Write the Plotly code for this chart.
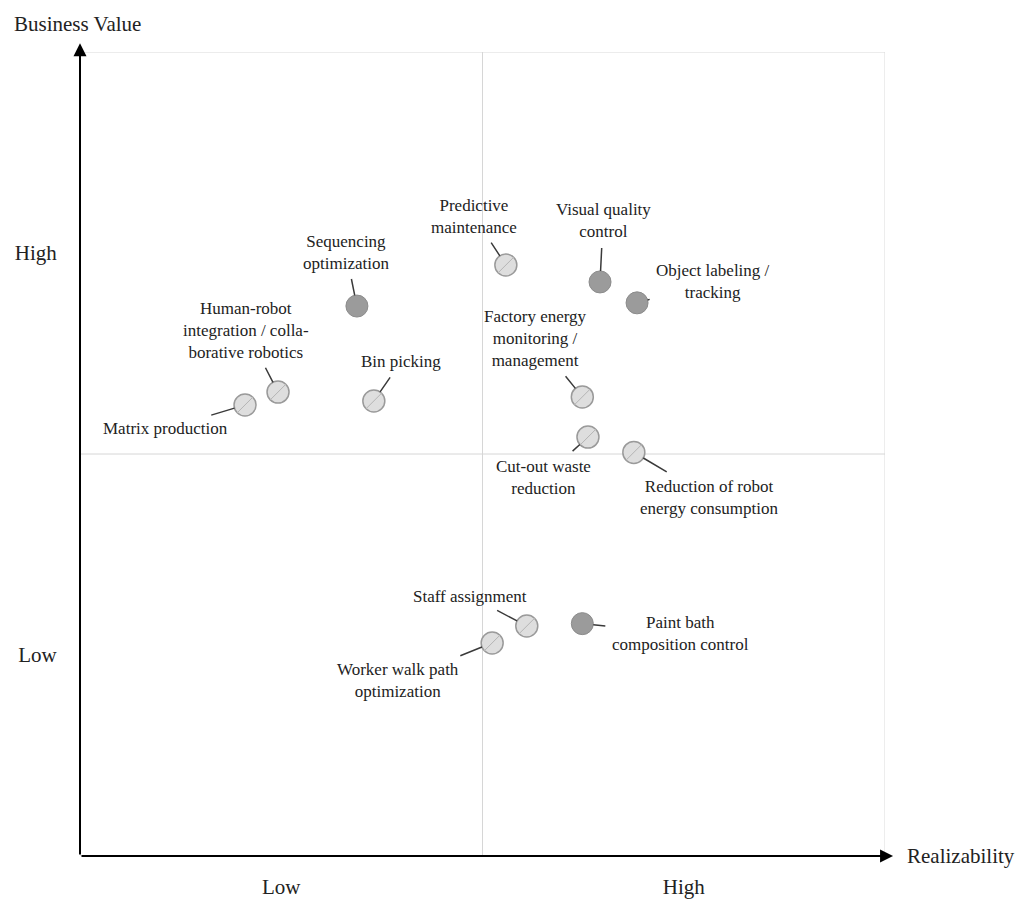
import plotly.graph_objects as go

# ---- data (0-100 scale on both axes) ----
use_cases = [
    "Matrix production",
    "Human-robot<br>integration / colla-<br>borative robotics",
    "Bin picking",
    "Sequencing<br>optimization",
    "Predictive<br>maintenance",
    "Visual quality<br>control",
    "Object labeling /<br>tracking",
    "Factory energy<br>monitoring /<br>management",
    "Cut-out waste<br>reduction",
    "Reduction of robot<br>energy consumption",
    "Staff assignment",
    "Paint bath<br>composition control",
    "Worker walk path<br>optimization",
]
realizability = [20.5, 24.6, 36.5, 34.4, 52.9, 64.6, 69.2, 62.4, 63.1, 68.8, 55.5, 62.4, 51.2]
business_value = [56.1, 57.7, 56.6, 68.4, 73.5, 71.4, 68.8, 57.1, 52.1, 50.2, 28.6, 28.9, 26.5]
implemented = [False, False, False, True, False, True, True, False, False, False, False, True, False]

tick_vals = [25, 75]
tick_text = ["Low", "High"]

# ---- label placement (pixel offsets of label centre from its point) ----
label_offsets = [
    (-80, 24), (-32, -62), (27, -39), (-11, -54), (-32, -49), (3, -61),
    (76, -21), (-47, -58), (-44, 40), (76, 45), (-57, -30), (98, 10), (-94, 38),
]

FONT = "Liberation Serif, Times New Roman, serif"

fig = go.Figure()

hx = [x for x, s in zip(realizability, implemented) if not s]
hy = [y for y, s in zip(business_value, implemented) if not s]
sx = [x for x, s in zip(realizability, implemented) if s]
sy = [y for y, s in zip(business_value, implemented) if s]

fig.add_trace(go.Scatter(
    x=hx, y=hy, mode="markers", hoverinfo="skip",
    marker=dict(size=22, color="#dedede", line=dict(color="#9a9a9a", width=1.5)),
))
fig.add_trace(go.Scatter(
    x=hx, y=hy, mode="markers", hoverinfo="skip",
    marker=dict(size=16, symbol="line-ne", line=dict(color="#b5b5b5", width=1)),
))
fig.add_trace(go.Scatter(
    x=sx, y=sy, mode="markers", hoverinfo="skip",
    marker=dict(size=22, color="#9b9b9b", line=dict(color="#8c8c8c", width=1)),
))

annotations = []
for name, x, y, (ax, ay) in zip(use_cases, realizability, business_value, label_offsets):
    annotations.append(dict(
        x=x, y=y, xref="x", yref="y", text=name, showarrow=True,
        ax=ax, ay=ay, arrowhead=0, arrowwidth=1.5, arrowcolor="#3a3a3a",
        standoff=11, startstandoff=3, borderpad=3,
        font=dict(family=FONT, size=17, color="#222222"), align="center",
    ))

# axis arrows
annotations.append(dict(x=101, y=0, xref="x", yref="y", axref="x", ayref="y", ax=0, ay=0,
                        text="", showarrow=True, arrowhead=2, arrowsize=1.3, arrowwidth=2,
                        arrowcolor="#000000"))
annotations.append(dict(x=0, y=101.1, xref="x", yref="y", axref="x", ayref="y", ax=0, ay=0,
                        text="", showarrow=True, arrowhead=2, arrowsize=1.3, arrowwidth=2,
                        arrowcolor="#000000"))
# axis titles
annotations.append(dict(x=-0.085, y=1.052, xref="paper", yref="paper", text="Business Value",
                        showarrow=False, xanchor="left", yanchor="top",
                        font=dict(family=FONT, size=21, color="#222222")))
annotations.append(dict(x=1.025, y=0, xref="paper", yref="paper", text="Realizability",
                        showarrow=False, xanchor="left", yanchor="middle",
                        font=dict(family=FONT, size=21, color="#222222")))

shapes = [
    dict(type="rect", xref="x", yref="y", x0=0, x1=100, y0=0, y1=100,
         line=dict(color="#dadada", width=1), layer="below"),
    dict(type="line", xref="x", yref="y", x0=50, x1=50, y0=0, y1=100,
         line=dict(color="#d6d6d6", width=1), layer="below"),
    dict(type="line", xref="x", yref="y", x0=0, x1=100, y0=50, y1=50,
         line=dict(color="#d6d6d6", width=1), layer="below"),
]

fig.update_layout(
    width=1028, height=901,
    margin=dict(l=72, r=151, t=44, b=53),
    paper_bgcolor="white", plot_bgcolor="white",
    showlegend=False,
    annotations=annotations, shapes=shapes,
    xaxis=dict(range=[0, 100], showgrid=False, zeroline=False, showline=False,
               automargin=False,
               tickvals=tick_vals, ticktext=tick_text, ticks="outside", ticklen=12,
               tickcolor="rgba(0,0,0,0)",
               tickfont=dict(family=FONT, size=21, color="#222222"), fixedrange=True),
    yaxis=dict(range=[0, 100], showgrid=False, zeroline=False, showline=False,
               automargin=False,
               tickvals=tick_vals, ticktext=tick_text, ticks="outside", ticklen=18,
               tickcolor="rgba(0,0,0,0)",
               tickfont=dict(family=FONT, size=21, color="#222222"), fixedrange=True),
)

fig.write_html("out.html")
